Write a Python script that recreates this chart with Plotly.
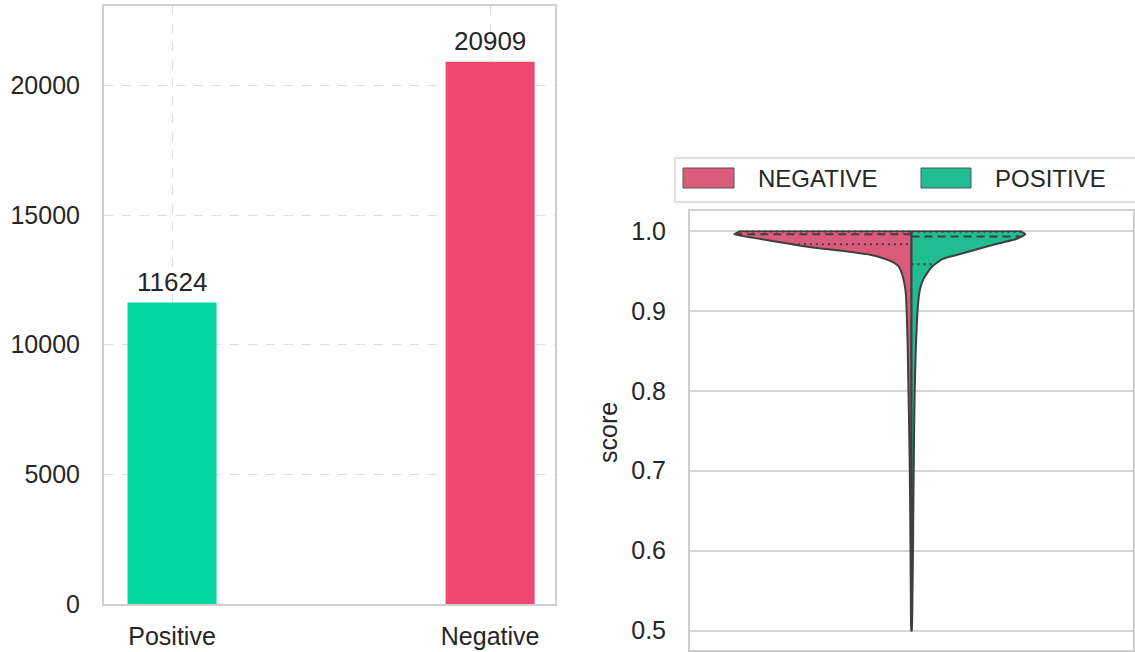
import numpy as np
import plotly.graph_objects as go

# ---------------- data ----------------
categories = ["Positive", "Negative"]
counts = [11624, 20909]
bar_colors = ["#06D6A0", "#EF476F"]
count_ticks = [0, 5000, 10000, 15000, 20000]

# split violin: kernel density (relative units) read at these score levels
score_levels = [0.9998, 0.996, 0.99, 0.985, 0.98, 0.975, 0.97, 0.965, 0.96, 0.955,
                0.95, 0.94, 0.93, 0.92, 0.90, 0.88, 0.85, 0.80, 0.75, 0.70,
                0.65, 0.60, 0.55, 0.50]
neg_density = [170, 176, 150, 126, 102, 67, 40, 26, 17, 12.5,
               10.5, 8, 6.5, 5.5, 4.8, 4.3, 3.7, 3.0, 2.3, 1.7,
               1.3, 1.0, 0.7, 0.2]
pos_density = [108, 113, 104, 88, 73, 59, 45, 31, 25, 20,
               17, 12, 9, 7.5, 6, 5.2, 4.2, 3.2, 2.6, 2.2,
               1.8, 1.5, 1.0, 0.3]
neg_quartiles = [0.9835, 0.996, 0.9995]   # q25, median, q75
pos_quartiles = [0.9585, 0.993, 0.999]
violin_labels = ["NEGATIVE", "POSITIVE"]
violin_colors = ["#DA5C7A", "#20BC93"]
score_ticks = [0.5, 0.6, 0.7, 0.8, 0.9, 1.0]
score_ticktext = ["0.5", "0.6", "0.7", "0.8", "0.9", "1.0"]

FONT = "Liberation Sans, Arial, sans-serif"
TXT = "#262626"
EDGE = "#3f3f3f"
W, H = 1135, 652

fig = go.Figure()

# ---------------- left: bar chart ----------------
fig.add_trace(go.Bar(
    x=categories, y=counts, width=0.28,
    marker=dict(color=bar_colors, line=dict(width=0)),
    xaxis="x", yaxis="y", showlegend=False, hoverinfo="x+y"))

annotations = []
for c, v in zip(categories, counts):
    annotations.append(dict(x=c, y=v, xref="x", yref="y", text=str(v),
                            showarrow=False, yanchor="bottom", yshift=4,
                            font=dict(size=26, color=TXT, family=FONT)))

# ---------------- right: split violin ----------------
half_max = 0.4
scale = half_max / max(neg_density)
neg_w = [d * scale for d in neg_density]
pos_w = [d * scale for d in pos_density]
n = len(score_levels)
top = score_levels[0]

# outer edge down, then the straight centre edge back up
neg_x = [-w for w in neg_w] + [0] * n
pos_x = list(pos_w) + [0] * n
poly_y = list(score_levels) + list(score_levels[::-1])

for xs, col, name in [(neg_x, violin_colors[0], violin_labels[0]),
                      (pos_x, violin_colors[1], violin_labels[1])]:
    fig.add_trace(go.Scatter(
        x=xs, y=poly_y, mode="lines", fill="toself", fillcolor=col,
        line=dict(color=EDGE, width=2, shape="spline", smoothing=0.5),
        xaxis="x2", yaxis="y2", name=name, showlegend=False, hoverinfo="name"))

# top edge of both halves
fig.add_trace(go.Scatter(x=[-neg_w[0], pos_w[0]], y=[top, top], mode="lines",
                         line=dict(color=EDGE, width=1.5),
                         xaxis="x2", yaxis="y2", showlegend=False, hoverinfo="skip"))

asc_levels = score_levels[::-1]
def width_at(q, widths):
    return float(np.interp(q, asc_levels, widths[::-1]))

dashes = ["2px,4px", "8px,5px", "2px,4px"]
for q, d in zip(neg_quartiles, dashes):
    w = width_at(q, neg_w)
    fig.add_trace(go.Scatter(x=[-w, 0], y=[q, q], mode="lines",
                             line=dict(color=EDGE, width=2, dash=d),
                             xaxis="x2", yaxis="y2", showlegend=False, hoverinfo="skip"))
for q, d in zip(pos_quartiles, dashes):
    w = width_at(q, pos_w)
    fig.add_trace(go.Scatter(x=[0, w], y=[q, q], mode="lines",
                             line=dict(color=EDGE, width=2, dash=d),
                             xaxis="x2", yaxis="y2", showlegend=False, hoverinfo="skip"))

# y-axis title of right panel
annotations.append(dict(x=608 / W, y=(H - 433) / H, xref="paper", yref="paper",
                        text="score", textangle=-90, showarrow=False,
                        font=dict(size=25, color=TXT, family=FONT)))

# ---------------- manual legend (right panel) ----------------
shapes = []
shapes.append(dict(type="rect", xref="paper", yref="paper",
                   x0=675 / W, x1=1.01, y0=(H - 202) / H, y1=(H - 158) / H,
                   line=dict(color="#d6d6d6", width=1.5), fillcolor="white", layer="above"))
legend_patch_x = [(683, 734), (921, 971)]
legend_text_x = [756, 993]
for (px0, px1), tx, col, name in zip(legend_patch_x, legend_text_x, violin_colors, violin_labels):
    shapes.append(dict(type="rect", xref="paper", yref="paper",
                       x0=px0 / W, x1=px1 / W, y0=(H - 188) / H, y1=(H - 168) / H,
                       line=dict(color="#555555", width=1), fillcolor=col, layer="above"))
    annotations.append(dict(x=tx / W, y=(H - 178) / H, xref="paper", yref="paper",
                            text=name, showarrow=False, xanchor="left", yanchor="middle",
                            font=dict(size=24, color=TXT, family=FONT)))

axis_common = dict(showline=True, mirror=True, linecolor="#cfcfcf", linewidth=2,
                   zeroline=False, ticks="", automargin=False,
                   tickfont=dict(size=25, color=TXT, family=FONT))

fig.update_layout(
    width=W, height=H,
    margin=dict(l=0, r=0, t=0, b=0),
    paper_bgcolor="white", plot_bgcolor="white",
    font=dict(family=FONT, color=TXT),
    xaxis=dict(domain=[104 / W, 555 / W], range=[-0.214, 1.204],
               showgrid=True, gridcolor="#dddddd", griddash="dash", gridwidth=1,
               ticklabelstandoff=9, **axis_common),
    yaxis=dict(domain=[(H - 604) / H, (H - 6) / H], range=[0, 23060],
               tickvals=count_ticks, tickformat="d", showgrid=True, gridcolor="#dddddd",
               griddash="dash", gridwidth=1, ticklabelstandoff=17, **axis_common),
    xaxis2=dict(domain=[690 / W, 1133 / W], range=[-0.5, 0.5], anchor="y2",
                showgrid=False, showticklabels=False, **axis_common),
    yaxis2=dict(domain=[(H - 650) / H, (H - 211) / H], range=[0.4756, 1.025], anchor="x2",
                tickvals=score_ticks, ticktext=score_ticktext,
                showgrid=True, gridcolor="#d6d6d6", gridwidth=1.5,
                ticklabelstandoff=17, **axis_common),
    shapes=shapes,
    annotations=annotations,
)

fig.write_html("out.html",
               config={"displayModeBar": False},
               post_script="document.body.style.margin='0';document.body.style.overflow='hidden';")
